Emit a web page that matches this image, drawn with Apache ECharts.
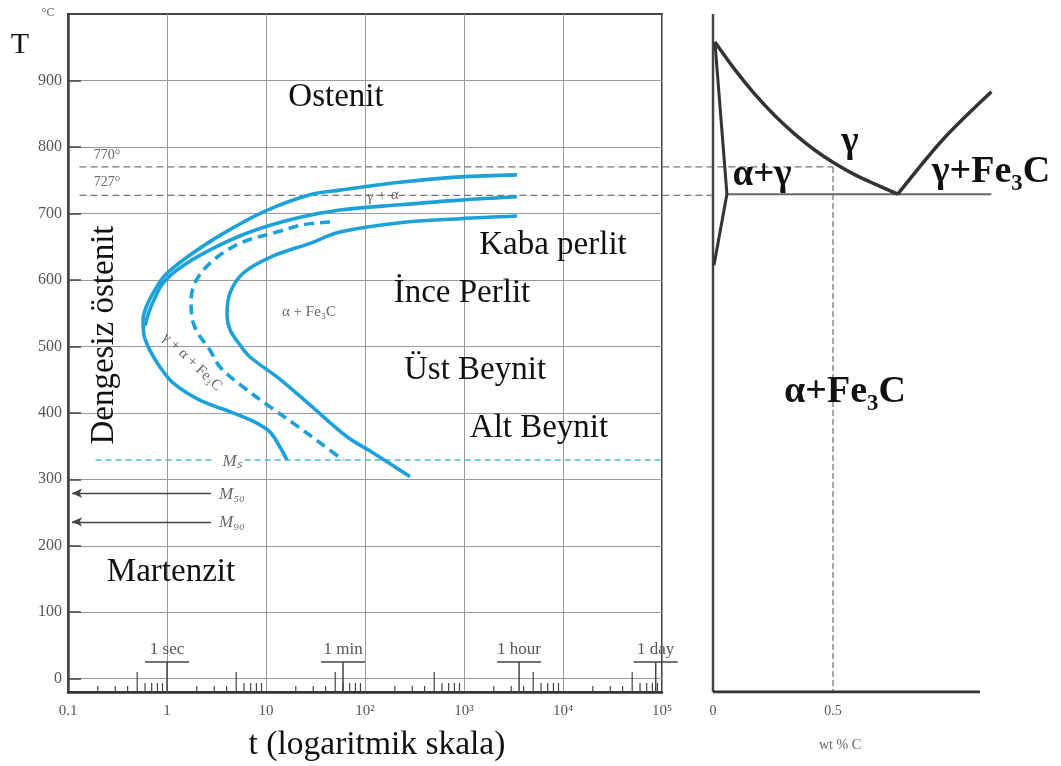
<!DOCTYPE html>
<html><head><meta charset="utf-8">
<script src="https://cdn.jsdelivr.net/npm/echarts@6/dist/echarts.min.js"></script>
<style>html,body{margin:0;padding:0;background:#fff}#c{width:1061px;height:766px}</style>
</head><body><div id="c"></div>
<script>
// ---------- data ----------
const yTicks = [0, 100, 200, 300, 400, 500, 600, 700, 800, 900];
const xTickLabels = ['0.1', '1', '10', '10²', '10³', '10⁴', '10⁵'];
const minorFactors = [2, 3, 4, 5, 6, 7, 8, 9];
const decades = [0.1, 1, 10, 100, 1000, 10000];
const timeMarkerValues = [1, 60, 3600, 86400];
const timeMarkerLabels = ['1 sec', '1 min', '1 hour', '1 day'];
const criticalTemps = [770, 727];
const msTemp = 329, m50Temp = 279, m90Temp = 236;
const msSegments = [[0.19, 2.85], [6.1, 100000]];
const martensiteArrowTimes = [2.78, 0.11];
const criticalLineStartWt = -2.64;
const steelCarbon = 0.5;
const wtTicks = [0, 0.5];
const wtAxisEnd = 1.1125;

// [time s, temperature °C]
const startCurve = [[3430,758],[912,755],[226,747],[55.9,735],[27.8,728],[9.33,702],[3.43,667],[1.59,634],[0.955,607],[0.756,585],[0.628,562],[0.573,540],[0.586,517],[0.673,494],[0.85,469],[1.15,445],[2.15,419],[4.64,400],[7.74,386],[11.0,371],[13.8,349],[16.3,329]];
const ferriteCurve = [[3430,725],[912,720],[226,713],[55.9,705],[20.6,693],[6.89,672],[2.72,645],[1.26,615],[0.911,595],[0.756,573],[0.658,552],[0.6,531]];
const halfCurve = [[44.3,687],[23.6,683],[12.9,672],[5.86,657],[3.2,634],[2.06,604],[1.75,570],[1.79,543],[2.01,522],[2.72,494],[3.43,469],[5.86,439],[11.0,409],[22.1,377],[35.1,355],[60,329]];
const finishCurve = [[3430,696],[912,692],[226,686],[55.9,672],[27.8,655],[11.0,634],[5.86,610],[4.33,580],[4.04,547],[4.33,525],[5.46,502],[6.89,484],[12.9,454],[27.8,412],[65.8,364],[120,340],[285,304]];

// [wt % C, temperature °C]
const a3Curve = [[0.008,958],[0.092,916],[0.175,879],[0.258,847],[0.342,819],[0.425,795],[0.508,775],[0.592,758],[0.675,744],[0.77,729]];
const acmCurve = [[0.77,729],[0.96,812],[1.16,883]];
const alphaUpper = [[0.008,958],[0.058,729]];
const alphaLower = [[0.058,729],[0.004,622]];
const eutectoidLine = [[0.058,729],[1.16,729]];

// ---------- styles ----------
const Y_MIN = -20, Y_MAX = 1000;
const serif = '"Liberation Serif","Times New Roman",serif';
const blue = '#1ca2d8';
const gray = '#666';

const minorTickData = [];
decades.forEach(d => minorFactors.forEach(f => minorTickData.push([d * f, f])));

function curve(data, dashed) {
  return {type:'line', xAxisIndex:0, yAxisIndex:0, data, smooth:0.35, symbol:'none', silent:true,
    lineStyle:{color:blue, width:3.6, type: dashed ? [10,6] : 'solid'}, z:5};
}
function phaseLine(data, color, width, dash, smooth) {
  return {type:'line', xAxisIndex:1, yAxisIndex:1, data, smooth: smooth || false, symbol:'none', silent:true,
    lineStyle:{color, width, type: dash || 'solid'}, z:4};
}

const series = [
  curve(startCurve), curve(ferriteCurve), curve(halfCurve, true), curve(finishCurve),
  ...msSegments.map(s => ({type:'line', xAxisIndex:0, yAxisIndex:0, data:[[s[0],msTemp],[s[1],msTemp]], symbol:'none', silent:true,
    lineStyle:{color:'#4dbbdc', width:1.6, type:[6,4]}, z:3})),
  {type:'line', xAxisIndex:0, yAxisIndex:0, data:[], silent:true,
    markLine:{silent:true, animation:false, symbol:['none','arrow'], symbolSize:[7,10], label:{show:false},
      lineStyle:{color:'#444', width:1.4, type:'solid'},
      data:[m50Temp, m90Temp].map(T => [{coord:[martensiteArrowTimes[0], T]}, {coord:[martensiteArrowTimes[1], T]}])}},
  {type:'custom', xAxisIndex:0, yAxisIndex:0, data:minorTickData, silent:true, clip:false, z:6,
    renderItem:(params, api) => {
      const f = api.value(1);
      const p = api.coord([api.value(0), Y_MIN]);
      const len = f === 5 ? 20 : (f > 5 ? 9 : 6);
      return {type:'line', shape:{x1:p[0], y1:p[1], x2:p[0], y2:p[1]-len}, style:{stroke:'#444', lineWidth:1.2}};
    }},
  {type:'custom', xAxisIndex:0, yAxisIndex:0, data:timeMarkerValues.map(v => [v, 0]), silent:true, clip:false, z:6,
    renderItem:(params, api) => {
      const p = api.coord([api.value(0), Y_MIN]);
      const h = 30, w = 22;
      return {type:'group', children:[
        {type:'line', shape:{x1:p[0], y1:p[1], x2:p[0], y2:p[1]-h}, style:{stroke:'#444', lineWidth:1.5}},
        {type:'line', shape:{x1:p[0]-w, y1:p[1]-h, x2:p[0]+w, y2:p[1]-h}, style:{stroke:'#444', lineWidth:1.5}},
        {type:'text', x:p[0], y:p[1]-h-4, style:{text:timeMarkerLabels[params.dataIndex], align:'center', verticalAlign:'bottom',
          fontFamily:serif, fontSize:17, fill:'#555'}}
      ]};
    }},
  // right panel (wide grid so dashed guides can reach back to the TTT chart)
  ...criticalTemps.map((T, i) => phaseLine([[criticalLineStartWt, T], [i === 0 ? steelCarbon : 0, T]], '#777', 1.3, [7,4])),
  phaseLine([[steelCarbon, criticalTemps[0]], [steelCarbon, Y_MIN]], '#777', 1.3, [6,3]),
  phaseLine([[0, Y_MIN], [0, Y_MAX]], '#444', 2.5),
  phaseLine([[0, Y_MIN], [wtAxisEnd, Y_MIN]], '#333', 3),
  phaseLine(eutectoidLine, '#666', 2),
  phaseLine(a3Curve, '#333', 3.5, null, 0.3),
  phaseLine(acmCurve, '#333', 3.5, null, 0.3),
  phaseLine(alphaUpper, '#333', 3),
  phaseLine(alphaLower, '#333', 3)
];

function txt(x, y, text, size, opts) {
  opts = opts || {};
  return {type:'text', x, y, rotation: opts.rot || 0, z:100, silent:true,
    style:{text, align:'center', verticalAlign:'middle', fontFamily:serif, fontSize:size,
      fontWeight: opts.bold ? 'bold' : 'normal', fontStyle: opts.italic ? 'italic' : 'normal', fill: opts.color || '#111'}};
}
const deg = Math.PI / 180;
const graphics = [
  txt(48, 13, '°C', 12, {color:'#666'}),
  txt(20, 45, 'T', 30),
  txt(336, 97, 'Ostenit', 33),
  txt(553, 245, 'Kaba perlit', 33),
  txt(462, 293, 'İnce Perlit', 33),
  txt(475, 370, 'Üst Beynit', 33),
  txt(539, 428, 'Alt Beynit', 33),
  txt(171, 572, 'Martenzit', 33),
  txt(104, 335, 'Dengesiz östenit', 33, {rot: 90 * deg}),
  txt(377, 745, 't (logaritmik skala)', 33.5),
  txt(107, 155, '770°', 14, {color:gray}),
  txt(107, 182, '727°', 14, {color:gray}),
  txt(383, 196, 'γ + α', 15, {color:gray, italic:true, rot: 5 * deg}),
  txt(309, 312, 'α + Fe₃C', 15, {color:gray}),
  txt(192, 362, 'γ + α + Fe₃C', 15, {color:gray, rot: -44 * deg}),
  txt(232, 462, 'Mₛ', 17, {color:gray, italic:true}),
  txt(232, 495, 'M₅₀', 17, {color:gray, italic:true}),
  txt(232, 523, 'M₉₀', 17, {color:gray, italic:true}),
  txt(762, 175, 'α+γ', 37, {bold:true}),
  txt(850, 142, 'γ', 37, {bold:true}),
  txt(991, 172, 'γ+Fe₃C', 38, {bold:true}),
  txt(845, 392, 'α+Fe₃C', 38, {bold:true}),
  txt(840, 745, 'wt % C', 14, {color:gray})
];

const option = {
  animation:false,
  backgroundColor:'#fff',
  grid:[
    {left:68, top:14, width:594, height:678, show:true, borderColor:'#444', borderWidth:2, outerBoundsMode:'none'},
    {left:68, top:14, width:993, height:678, outerBoundsMode:'none'}
  ],
  xAxis:[
    {type:'log', gridIndex:0, logBase:10, min:0.1, max:100000,
      axisLine:{show:true, onZero:false, lineStyle:{color:'#333', width:2.5}},
      axisTick:{show:false},
      axisLabel:{margin:12, fontFamily:serif, fontSize:15, color:'#555',
        formatter:v => xTickLabels[Math.round(Math.log10(v)) + 1]},
      splitLine:{show:true, lineStyle:{color:'#999', width:1}},
      minorTick:{show:false}, minorSplitLine:{show:false}},
    {type:'value', gridIndex:1, min:-2.6875, max:1.45,
      axisLine:{show:false, onZero:false},
      axisTick:{show:false},
      axisLabel:{margin:12, fontFamily:serif, fontSize:14, color:'#555', customValues:wtTicks,
        formatter:v => String(v)},
      splitLine:{show:false}}
  ],
  yAxis:[
    {type:'value', gridIndex:0, min:Y_MIN, max:Y_MAX,
      axisLine:{show:true, lineStyle:{color:'#444', width:2.5}},
      axisTick:{show:true, inside:true, length:13, customValues:yTicks, lineStyle:{color:'#444', width:1.5}},
      axisLabel:{margin:6, fontFamily:serif, fontSize:16, color:'#555', customValues:yTicks},
      splitLine:{show:true, lineStyle:{color:'#999', width:1}}},
    {type:'value', gridIndex:1, min:Y_MIN, max:Y_MAX, show:false,
      axisLine:{show:false}, axisTick:{show:false}, axisLabel:{show:false}, splitLine:{show:false}}
  ],
  series,
  graphic:graphics
};
const chart = echarts.init(document.getElementById('c'), null, {renderer:'canvas'});
chart.setOption(option);
</script></body></html>
